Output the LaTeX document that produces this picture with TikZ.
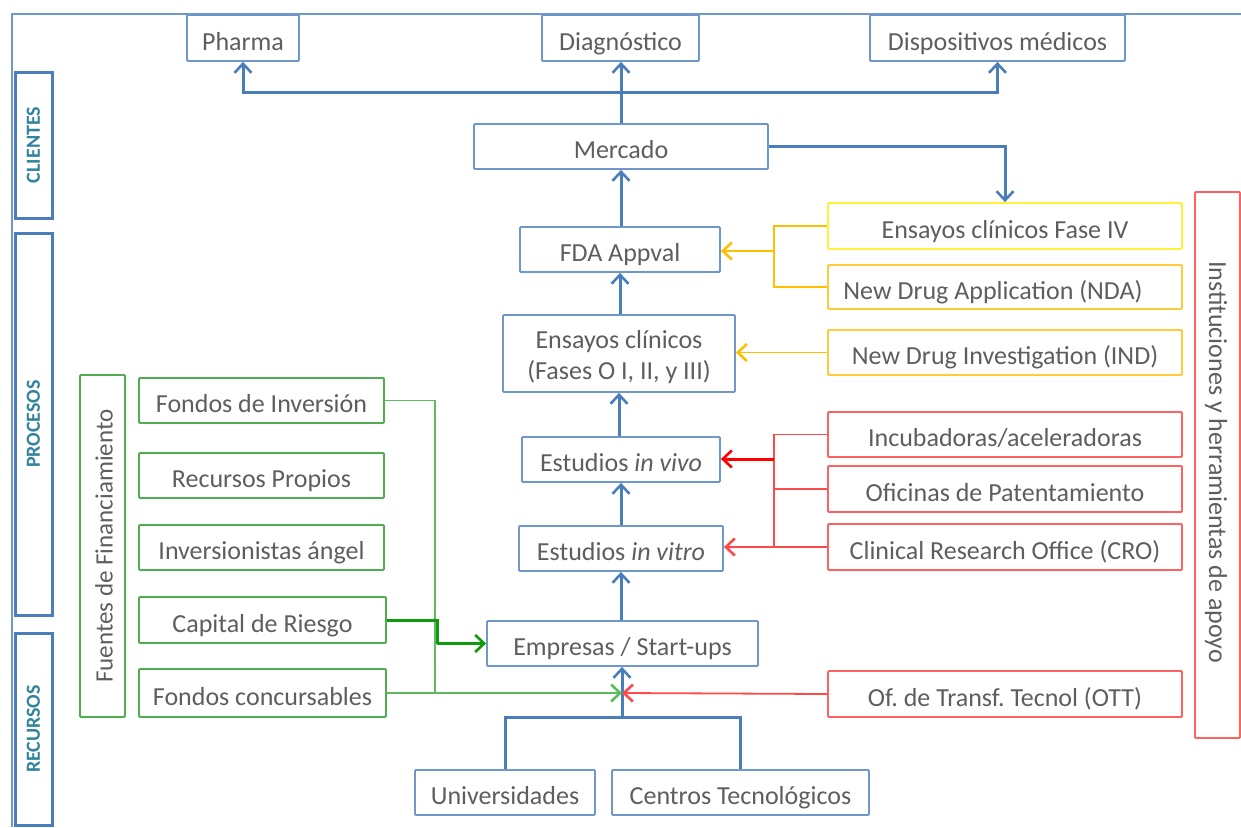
\documentclass[tikz,border=0pt]{standalone}
\usepackage{fontspec}
\setmainfont{Carlito}
\frenchspacing
\usetikzlibrary{arrows.meta}
\definecolor{txt}{HTML}{5E5E5E}
\definecolor{teal}{HTML}{31849B}
\definecolor{bline}{HTML}{4A7EBB}
\definecolor{bbox}{HTML}{6F97CC}
\definecolor{gbox}{HTML}{4FAE4F}
\definecolor{gline}{HTML}{5DBB5D}
\definecolor{gdark}{HTML}{109A10}
\definecolor{rbox}{HTML}{FF6060}
\definecolor{rline}{HTML}{FF4A4A}
\definecolor{ybox}{HTML}{FFF23A}
\definecolor{obox}{HTML}{FFCB3A}
\definecolor{oline}{HTML}{FFC000}
\tikzset{
  every node/.style={font=\fontsize{26}{31}\selectfont, text=txt, inner sep=0pt},
  box/.style={draw=bbox, line width=1.8pt, rounded corners=1pt, fill=white,
    text height=26pt, text depth=2pt},
  gbx/.style={box, draw=gbox},
  rbx/.style={box, draw=rbox},
  ybx/.style={box, draw=ybox},
  obx/.style={box, draw=obox},
  side/.style={draw=bline, line width=3pt, fill=white},
  sidelabel/.style={font=\fontsize{20}{23}\selectfont\bfseries, text=teal},
  vlabel/.style={font=\fontsize{25}{30}\selectfont},
  tip/.style={-{Straight Barb[length=9pt,width=17pt,line width=2.6pt]}},
  bconn/.style={draw=bline, line width=3pt},
  gconn/.style={draw=gline, line width=1.8pt},
  gthick/.style={draw=gdark, line width=3pt},
  rconn/.style={draw=rline, line width=1.8pt},
  rthick/.style={draw=red, line width=3pt},
  oconn/.style={draw=oline, line width=1.8pt},
}
\begin{document}
\begin{tikzpicture}[x=1pt,y=-1pt]
\useasboundingbox (0,0) rectangle (1241,827);

% outer frame
\coordinate (frameTL) at (12,14);
\coordinate (frameTR) at (1241,14);
\coordinate (frameBL) at (12,827);
\draw[draw=bbox, line width=2.2pt] (frameBL) -- (frameTL) -- (frameTR);

% side bands
\node[side, minimum width=37pt, minimum height=146pt] (clientes) at (33.5,145) {};
\node[sidelabel, rotate=90] (clientesT) at (clientes) {CLIENTES};
\node[side, minimum width=37pt, minimum height=382pt] (procesos) at (33.5,424) {};
\node[sidelabel, rotate=90] (procesosT) at (procesos) {PROCESOS};
\node[side, minimum width=37pt, minimum height=192pt] (recursos) at (33.5,729) {};
\node[sidelabel, rotate=90] (recursosT) at (recursos) {RECURSOS};

% customers
\node[box, minimum width=112pt, minimum height=46pt] (pharma) at (243,38) {Pharma};
\node[box, minimum width=157pt, minimum height=46pt] (diag) at (620.5,38) {Diagnóstico};
\node[box, minimum width=255pt, minimum height=46pt] (disp) at (997.5,38) {Dispositivos médicos};

% main chain
\node[box, minimum width=294pt, minimum height=45pt] (mercado) at (621,146.5) {Mercado};
\node[box, minimum width=200pt, minimum height=45pt] (fda) at (620,249.5) {FDA Appval};
\node[draw=bbox, line width=1.8pt, rounded corners=1pt, fill=white, minimum width=232pt, minimum height=77pt] (ensayos) at (619,353.5) {};
\node[align=center] (ensayosT) at (619,357.5) {Ensayos clínicos\\(Fases O I, II, y III)};
\node[box, minimum width=198pt, minimum height=45pt] (vivo) at (621,459.5) {Estudios \textit{in vivo}};
\node[box, minimum width=204pt, minimum height=45pt] (vitro) at (621,548.5) {Estudios \textit{in vitro}};
\node[box, minimum width=271pt, minimum height=45pt] (empresas) at (622.5,643.5) {Empresas / Start-ups};
\node[box, minimum width=180pt, minimum height=45pt] (univ) at (505,792.5) {Universidades};
\node[box, minimum width=257pt, minimum height=45pt] (centros) at (740.5,792.5) {Centros Tecnológicos};

% support institutions
\node[ybx, minimum width=354pt, minimum height=46pt] (fase4) at (1005,226) {Ensayos clínicos Fase IV};
\node[obx, minimum width=354pt, minimum height=44pt] (nda) at (1005,287) {\hspace*{-12pt}New Drug Application (NDA)\hspace*{12pt}};
\node[obx, minimum width=354pt, minimum height=45pt] (ind) at (1005,352.5) {New Drug Investigation (IND)};
\node[rbx, minimum width=354pt, minimum height=45pt] (incub) at (1005,434.5) {Incubadoras/aceleradoras};
\node[rbx, minimum width=354pt, minimum height=46pt] (ofic) at (1005,489) {Oficinas de Patentamiento};
\node[rbx, minimum width=354pt, minimum height=46pt] (cro) at (1005,547) {Clinical Research Office (CRO)};
\node[rbx, minimum width=354pt, minimum height=46pt] (ott) at (1005,694) {Of. de Transf. Tecnol (OTT)};
\node[draw=rbox, line width=1.8pt, rounded corners=1pt, fill=white, minimum width=45pt, minimum height=546pt] (inst) at (1217.5,465) {};
\node[rotate=-90, font=\fontsize{26}{31}\selectfont] (instT) at (1216,462) {Instituciones y herramientas de apoyo};

% funding sources
\node[draw=gbox, line width=1.8pt, rounded corners=1pt, fill=white, minimum width=45pt, minimum height=342pt] (fuentes) at (102.5,546) {};
\node[vlabel, rotate=90] (fuentesT) at (104,546) {Fuentes de Financiamiento};
\node[gbx, minimum width=245pt, minimum height=45pt] (fondinv) at (261.5,400.5) {Fondos de Inversión};
\node[gbx, minimum width=245pt, minimum height=45pt] (recprop) at (261.5,475.5) {Recursos Propios};
\node[gbx, minimum width=245pt, minimum height=45pt] (angel) at (261.5,547.5) {Inversionistas ángel};
\node[gbx, minimum width=247pt, minimum height=46pt] (capital) at (262.5,620) {Capital de Riesgo};
\node[gbx, minimum width=247pt, minimum height=48pt] (concurs) at (262.5,693) {Fondos concursables};

% junction points
\coordinate (bus) at (621,92);
\coordinate (obr) at (774,251);
\coordinate (rbr) at (774,459);
\coordinate (meet) at (622,693);
\coordinate (base) at (622,717);
\coordinate (gx) at (435,400.5);
\coordinate (gd) at (437,643.5);

% market to customers
\draw[bconn, tip] (mercado.north) -- (mercado.north |- diag.south);
\draw[bconn, tip] (bus) -| (pharma.south);
\draw[bconn, tip] (bus) -| (disp.south);
\draw[bconn, tip] (mercado.east) -| (fase4.north);

% process chain
\draw[bconn, tip] (fda.north -| mercado.south) -- (mercado.south);
\draw[bconn, tip] (ensayos.north -| fda.south) -- (fda.south);
\draw[bconn, tip] (vivo.north -| ensayos.south) -- (ensayos.south);
\draw[bconn, tip] (vitro.north -| vivo.south) -- (vivo.south);
\draw[bconn, tip] (empresas.north -| vitro.south) -- (vitro.south);

% resources feeding the companies
\draw[bconn] (univ.north) |- (base) -| (centros.north);
\draw[bconn, tip] (base) -- (empresas.south -| base);

% regulatory inputs
\draw[oconn] (fase4.west) -| (obr) |- (nda.west);
\draw[oconn, tip] (obr) -- (obr -| fda.east);
\draw[oconn, tip] (ind.west) -- (ind.west -| ensayos.east);

% support institutions inputs
\draw[rconn] (incub.west) -| (rbr) |- (cro.west);
\draw[rconn] (ofic.west) -- (ofic.west -| rbr);
\draw[rthick, tip] (rbr) -- (rbr -| vivo.east);
\draw[rconn, tip] (cro.west -| rbr) -- (cro.west -| vitro.east);
\draw[rconn, tip] (ott.west) -- (meet);

% funding inputs
\draw[gconn] (fondinv.east) -- (gx) |- (concurs.east);
\draw[gconn, tip] (concurs.east) -- (meet);
\draw[gthick] (capital.east) -| (gd);
\draw[gthick, tip] (gd) -- (empresas.west);
\end{tikzpicture}
\end{document}
